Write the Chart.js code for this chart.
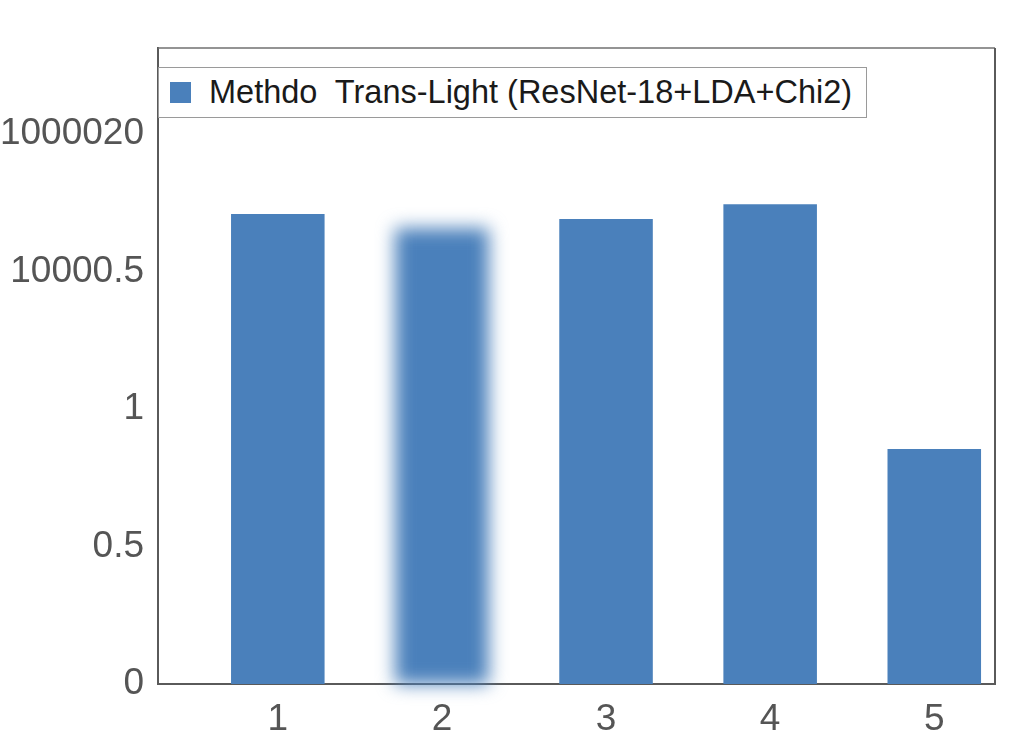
<!DOCTYPE html>
<html>
<head>
<meta charset="utf-8">
<script src="https://cdn.jsdelivr.net/npm/chart.js@4/dist/chart.umd.min.js"></script>
<style>
  html, body { margin: 0; padding: 0; background: #ffffff; }
  #wrap { position: relative; width: 1024px; height: 736px; overflow: hidden; }
  #legend {
    position: absolute; left: 158px; top: 67px; width: 709px; height: 51px;
    border: 1.5px solid #9a9a9a; background: #fff; box-sizing: border-box;
    display: flex; align-items: center;
    font-family: "Liberation Sans", Arial, sans-serif; font-size: 32.5px; color: #1a1a1a;
    white-space: pre;
  }
  #legend .sw { width: 21px; height: 21px; background: #4a80bb; margin-left: 11px; margin-right: 18px; flex: none; }
</style>
</head>
<body>
<div id="wrap">
  <canvas id="c" width="1024" height="736"></canvas>
  <div id="legend"><span class="sw"></span><span id="legtext"></span></div>
</div>
<script>
const seriesName = "Methdo  Trans-Light (ResNet-18+LDA+Chi2)";
const categories = [1, 2, 3, 4, 5];
const values = [1.709, 1.658, 1.691, 1.745, 0.855];
const yTickValues = [0, 0.5, 1, 1.5, 2];
const yTickLabels = ["0", "0.5", "1", "10000.5", "1000020"];
const blurredIndex = 1;

document.getElementById('legtext').textContent = seriesName;

const barColor = '#4a80bb';

const framePlugin = {
  id: 'frame',
  afterDatasetsDraw(chart) {
    const a = chart.chartArea, ctx = chart.ctx;
    // blurred bar, geometry taken from the library's bar element
    const el = chart.getDatasetMeta(0).data[blurredIndex];
    if (el) {
      const p = el.getProps(['x', 'y', 'base', 'width'], true);
      ctx.save();
      ctx.filter = 'blur(9px)';
      ctx.fillStyle = barColor;
      ctx.fillRect(p.x - p.width / 2, p.y, p.width, p.base - p.y);
      ctx.restore();
    }
    ctx.save();
    ctx.strokeStyle = '#707070';
    ctx.lineWidth = 1.5;
    ctx.beginPath();
    ctx.moveTo(a.left, a.top); ctx.lineTo(a.right, a.top);
    ctx.stroke();
    ctx.strokeStyle = '#5a5a5a';
    ctx.lineWidth = 2;
    ctx.beginPath();
    ctx.moveTo(a.right, a.top); ctx.lineTo(a.right, a.bottom);
    ctx.stroke();
    ctx.restore();
  }
};

const tickFont = { family: '"Liberation Sans", Arial, sans-serif', size: 37 };

new Chart(document.getElementById('c'), {
  type: 'bar',
  data: {
    datasets: [{
      label: seriesName,
      data: categories.map((c, i) => ({ x: c, y: values[i] })),
      backgroundColor: categories.map((c, i) => i === blurredIndex ? 'rgba(0,0,0,0)' : barColor),
      borderWidth: 0,
      barPercentage: 0.57,
      categoryPercentage: 1.0
    }]
  },
  options: {
    responsive: false,
    animation: false,
    devicePixelRatio: 1,
    layout: { padding: { top: 48, right: 29, left: 0, bottom: 0 } },
    plugins: { legend: { display: false }, tooltip: { enabled: false } },
    scales: {
      x: {
        type: 'linear',
        offset: false,
        min: 0.27,
        max: 5.37,
        afterBuildTicks: (axis) => { axis.ticks = categories.map(v => ({ value: v })); },
        afterFit: (s) => { s.height = 52; },
        grid: { display: false, drawTicks: false },
        border: { display: true, color: '#5a5a5a', width: 2 },
        ticks: { color: '#555555', font: tickFont, padding: 14, maxRotation: 0,
                 callback: (v) => String(v) }
      },
      y: {
        min: 0,
        max: 2.313,
        afterBuildTicks: (axis) => { axis.ticks = yTickValues.map(v => ({ value: v })); },
        afterFit: (s) => { s.width = 158; },
        grid: { display: false, drawTicks: false },
        border: { display: true, color: '#5a5a5a', width: 2 },
        ticks: { color: '#555555', font: tickFont, padding: 14,
                 callback: (v, i) => yTickLabels[i] }
      }
    }
  },
  plugins: [framePlugin]
});
</script>
</body>
</html>
